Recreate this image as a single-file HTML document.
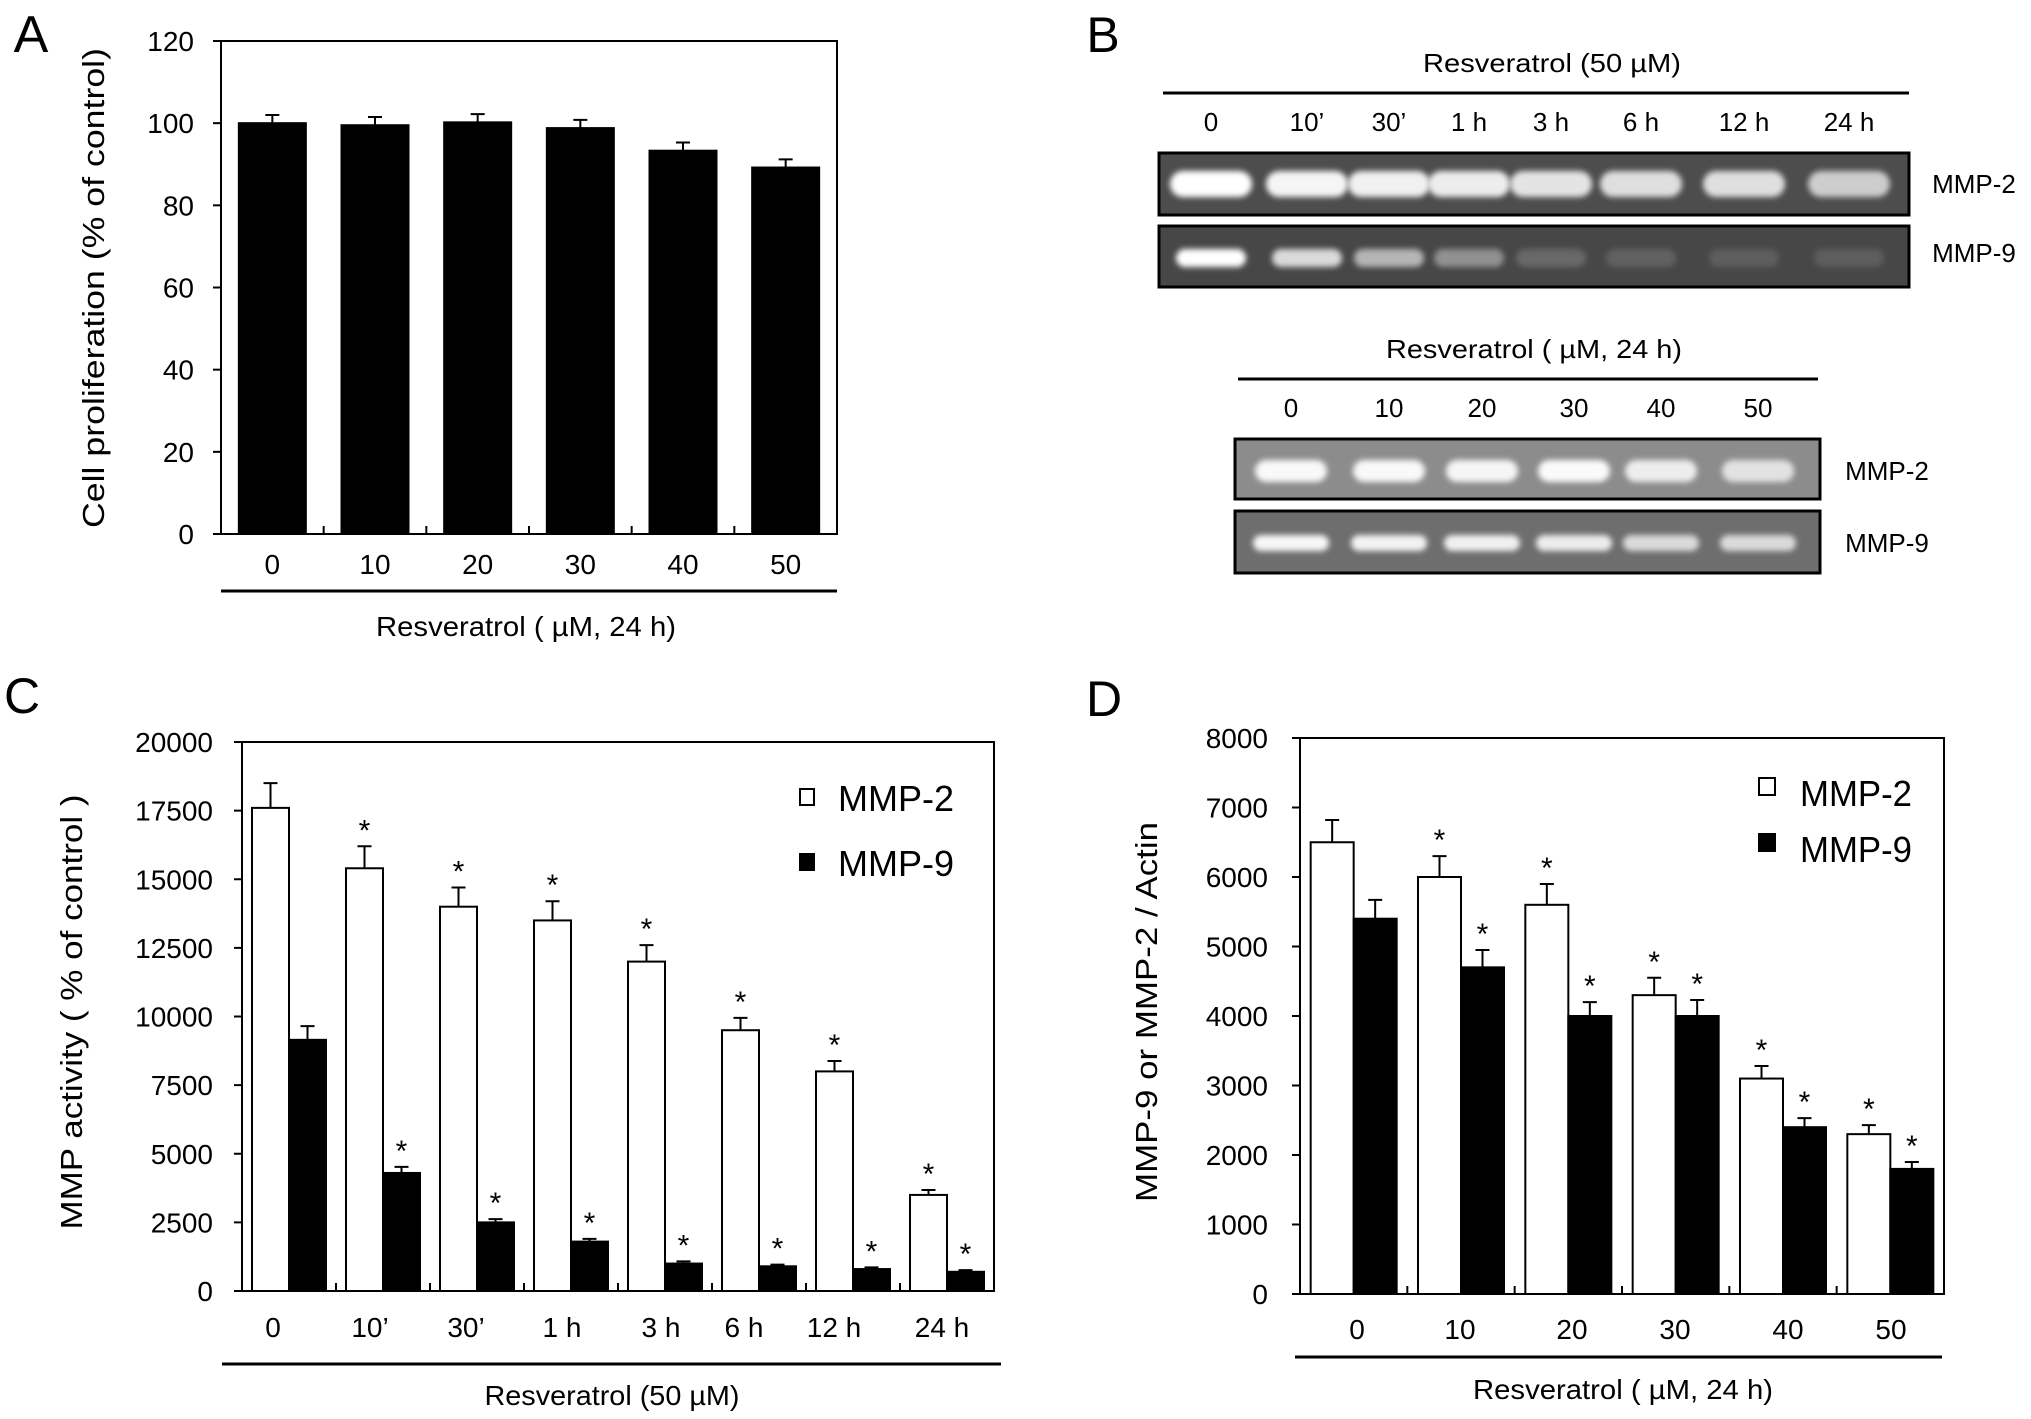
<!DOCTYPE html>
<html><head><meta charset="utf-8"><style>
html,body{margin:0;padding:0;background:#fff}
svg{display:block}
text{font-family:"Liberation Sans Narrow","Liberation Sans",sans-serif;fill:#000}
</style></head><body>
<svg id="fig" width="2031" height="1419" viewBox="0 0 2031 1419" xmlns="http://www.w3.org/2000/svg">
<defs>
<filter id="blur" x="-30%" y="-80%" width="160%" height="260%"><feGaussianBlur stdDeviation="5"/></filter>
<filter id="blur2" x="-30%" y="-80%" width="160%" height="260%"><feGaussianBlur stdDeviation="3"/></filter>
</defs>
<g id="panelA"></g>
<g id="panelB"></g>
<g id="panelC"></g>
<g id="panelD"></g>
</svg>
<script>
// ---- Panel A data ----
const aCategories = ["0","10","20","30","40","50"];
const aValues = [100, 99.5, 100.2, 98.8, 93.3, 89.2];
const aErrors = [2, 2, 2, 2, 2, 2];
const aTicks = [0,20,40,60,80,100,120];
// ---- Panel C data ----
const cCategories = ["0","10\u2019","30\u2019","1 h","3 h","6 h","12 h","24 h"];
const cMmp2 = [17600, 15400, 14000, 13500, 12000, 9500, 8000, 3500];
const cMmp2Err = [900, 800, 700, 700, 600, 450, 380, 180];
const cMmp9 = [9150, 4300, 2500, 1800, 1000, 900, 800, 700];
const cMmp9Err = [500, 220, 120, 100, 80, 60, 60, 60];
const cSig = [false, true, true, true, true, true, true, true];
const cTicks = [0,2500,5000,7500,10000,12500,15000,17500,20000];
// ---- Panel D data ----
const dCategories = ["0","10","20","30","40","50"];
const dMmp2 = [6500, 6000, 5600, 4300, 3100, 2300];
const dMmp2Err = [320, 300, 300, 250, 180, 130];
const dMmp9 = [5400, 4700, 4000, 4000, 2400, 1800];
const dMmp9Err = [270, 250, 200, 230, 130, 100];
const dSig = [false, true, true, true, true, true];
const dTicks = [0,1000,2000,3000,4000,5000,6000,7000,8000];
// ---- Panel B gel lanes ----
const bTimeLanes = ["0","10\u2019","30\u2019","1 h","3 h","6 h","12 h","24 h"];
const bMmp2Time = [1, 0.95, 0.92, 0.9, 0.85, 0.82, 0.82, 0.72];
const bMmp9Time = [1, 0.8, 0.6, 0.4, 0.18, 0.14, 0.12, 0.12];
const bDoseLanes = ["0","10","20","30","40","50"];
const bMmp2Dose = [0.95, 0.95, 0.92, 0.97, 0.85, 0.75];
const bMmp9Dose = [0.95, 0.92, 0.9, 0.88, 0.75, 0.75];

const NS = "http://www.w3.org/2000/svg";
function mk(parent, tag, attrs, txt){
  const e = document.createElementNS(NS, tag);
  for (const k in attrs) e.setAttribute(k, attrs[k]);
  if (txt !== undefined) e.textContent = txt;
  parent.appendChild(e);
  return e;
}

function barChart(g, cfg){
  const {L,R,T,B,ymax,ticks,cats,series,sig,labelX,labelY,barW,tickFs,tickRight} = cfg;
  const yS = v => B - (v/ymax)*(B-T);
  const pitch = (R-L)/cats.length;
  const xC = i => L + pitch*(i+0.5);
  // frame
  const frame = mk(g,'rect',{x:L,y:T,width:R-L,height:B-T,fill:'none',stroke:'#000','stroke-width':2});
  
  
  ticks.forEach(t=>{
    const tl = mk(g,'line',{x1:L-8,x2:L,y1:yS(t),y2:yS(t),stroke:'#000','stroke-width':2});
    
    
    const tx = mk(g,'text',{x:tickRight,y:yS(t)+10,'text-anchor':'end','font-size':tickFs},String(t));
    
    
  });
  for(let i=1;i<cats.length;i++){
    const cl = mk(g,'line',{x1:L+pitch*i,x2:L+pitch*i,y1:B,y2:B-8,stroke:'#000','stroke-width':2});
    
    
  }
  const n = series.length;
  cats.forEach((c,i)=>{
    let topY = Infinity;
    series.forEach((s,j)=>{
      const x0 = xC(i) - n*barW/2 + j*barW;
      const y = yS(s.values[i]);
      const r = mk(g,'rect',{x:x0,y:y,width:barW,height:B-y,fill:s.fill,stroke:'#000','stroke-width':2});
      
      
      const ey = yS(s.values[i]+s.err[i]);
      const cx = x0+barW/2;
      const el = mk(g,'path',{d:`M${cx},${y} V${ey} M${cx-7},${ey} H${cx+7}`,stroke:'#000','stroke-width':2,fill:'none'});
      
      
      if (sig && sig[i]){
        const st = mk(g,'text',{x:cx,y:ey-6,'text-anchor':'middle','font-size':30},'*');
        
        
      }
    });
  });
  cats.forEach((c,i)=>{
    const lx = labelX ? labelX[i] : xC(i);
    const t = mk(g,'text',{x:lx,y:labelY,'text-anchor':'middle','font-size':28},c);
    
    
  });
}

function title(g, x, y, s, fs, len, rot, name){
  const a = {x:x,y:y,'text-anchor':'middle','font-size':fs};
  if (len){a.textLength=len;a.lengthAdjust='spacingAndGlyphs';}
  if (rot) a.transform=`rotate(-90 ${x} ${y})`;
  const t = mk(g,'text',a,s);
  
  
  return t;
}
function hline(g,x1,x2,y,name){
  const l = mk(g,'line',{x1:x1,x2:x2,y1:y,y2:y,stroke:'#000','stroke-width':3});
  
  
}

// ===== Panel A =====
const gA = document.getElementById('panelA');
title(gA, 31, 52, 'A', 52, 0, false, 'panel-label-a');
barChart(gA,{L:221,R:837,T:41,B:534,ymax:120,ticks:aTicks,cats:aCategories,
  series:[{name:'proliferation',values:aValues,err:aErrors,fill:'#000'}],sig:null,
  labelX:null,labelY:574,barW:67,tickFs:28,tickRight:194});
hline(gA,221,837,591,'x-group-line');
title(gA, 526, 636, 'Resveratrol ( \u00b5M, 24 h)', 28, 300, false, 'x-axis-title');
title(gA, 104, 288, 'Cell proliferation (% of control)', 31, 480, true, 'y-axis-title');

// ===== Panel C =====
const gC = document.getElementById('panelC');
title(gC, 22, 713, 'C', 50, 0, false, 'panel-label-c');
barChart(gC,{L:242,R:994,T:742,B:1291,ymax:20000,ticks:cTicks,cats:cCategories,
  series:[{name:'mmp2',values:cMmp2,err:cMmp2Err,fill:'#fff'},{name:'mmp9',values:cMmp9,err:cMmp9Err,fill:'#000'}],
  sig:cSig,labelX:[273,370,466,562,661,744,834,942],labelY:1337,barW:37,tickFs:28,tickRight:213});
hline(gC,222,1001,1364,'x-group-line');
title(gC, 612, 1405, 'Resveratrol (50 \u00b5M)', 28, 255, false, 'x-axis-title');
title(gC, 82, 1012, 'MMP activity ( % of control )', 31, 435, true, 'y-axis-title');
(function(){
  const r1 = mk(gC,'rect',{x:800,y:789,width:14,height:16,fill:'#fff',stroke:'#000','stroke-width':2});
   
  const r2 = mk(gC,'rect',{x:800,y:854,width:14,height:16,fill:'#000',stroke:'#000','stroke-width':2});
   
  title(gC, 896, 811, 'MMP-2', 36, 116, false, 'legend-entry-mmp2');
  title(gC, 896, 876, 'MMP-9', 36, 116, false, 'legend-entry-mmp9');
})();

// ===== Panel D =====
const gD = document.getElementById('panelD');
title(gD, 1104, 716, 'D', 50, 0, false, 'panel-label-d');
barChart(gD,{L:1300,R:1944,T:738,B:1294,ymax:8000,ticks:dTicks,cats:dCategories,
  series:[{name:'mmp2',values:dMmp2,err:dMmp2Err,fill:'#fff'},{name:'mmp9',values:dMmp9,err:dMmp9Err,fill:'#000'}],
  sig:dSig,labelX:[1357,1460,1572,1675,1788,1891],labelY:1339,barW:43,tickFs:28,tickRight:1268});
hline(gD,1295,1942,1357,'x-group-line');
title(gD, 1623, 1399, 'Resveratrol ( \u00b5M, 24 h)', 28, 300, false, 'x-axis-title');
title(gD, 1157, 1012, 'MMP-9 or MMP-2 / Actin', 31, 380, true, 'y-axis-title');
(function(){
  const r1 = mk(gD,'rect',{x:1759,y:778,width:16,height:17,fill:'#fff',stroke:'#000','stroke-width':2});
   
  const r2 = mk(gD,'rect',{x:1759,y:834,width:16,height:17,fill:'#000',stroke:'#000','stroke-width':2});
   
  title(gD, 1856, 806, 'MMP-2', 36, 112, false, 'legend-entry-mmp2');
  title(gD, 1856, 862, 'MMP-9', 36, 112, false, 'legend-entry-mmp9');
})();

// ===== Panel B (gels) =====
const gB = document.getElementById('panelB');
title(gB, 1103, 52, 'B', 50, 0, false, 'panel-label-b');
title(gB, 1552, 72, 'Resveratrol (50 \u00b5M)', 26, 258, false, 'gel-title-time');
hline(gB,1163,1909,93,'gel-group-line');
const timeX = [1211,1307,1389,1469,1551,1641,1744,1849];
bTimeLanes.forEach((s,i)=>{ title(gB, timeX[i], 131, s, 26, 0, false, 'lane-label'); });
function gel(x,y,w,h,fill,lanesX,intens,bandY,bandW,bandH,name){
  const r = mk(gB,'rect',{x:x,y:y,width:w,height:h,fill:fill,stroke:'#000','stroke-width':3});
  
  
  intens.forEach((v,i)=>{
    const b = mk(gB,'rect',{x:lanesX[i]-bandW/2,y:bandY-bandH/2,width:bandW,height:bandH,rx:bandH/2,fill:'#fff',opacity:v,filter:'url(#blur2)'});
    
    
  });
}
gel(1159,153,750,62,'#4d4d4d',timeX,bMmp2Time,184,82,26,'gel-mmp2-time');
gel(1159,226,750,61,'#474747',timeX,bMmp9Time,258,70,18,'gel-mmp9-time');
title(gB, 1974, 193, 'MMP-2', 26, 0, false, 'gel-row-label');
title(gB, 1974, 262, 'MMP-9', 26, 0, false, 'gel-row-label');

title(gB, 1534, 358, 'Resveratrol ( \u00b5M, 24 h)', 26, 296, false, 'gel-title-dose');
hline(gB,1238,1818,379,'gel-group-line');
const doseX = [1291,1389,1482,1574,1661,1758];
bDoseLanes.forEach((s,i)=>{ title(gB, doseX[i], 417, s, 26, 0, false, 'lane-label'); });
gel(1235,439,585,60,'#8c8c8c',doseX,bMmp2Dose,471,72,22,'gel-mmp2-dose');
gel(1235,511,585,62,'#6e6e6e',doseX,bMmp9Dose,543,76,16,'gel-mmp9-dose');
title(gB, 1887, 480, 'MMP-2', 26, 0, false, 'gel-row-label');
title(gB, 1887, 552, 'MMP-9', 26, 0, false, 'gel-row-label');
</script>
</body></html>
